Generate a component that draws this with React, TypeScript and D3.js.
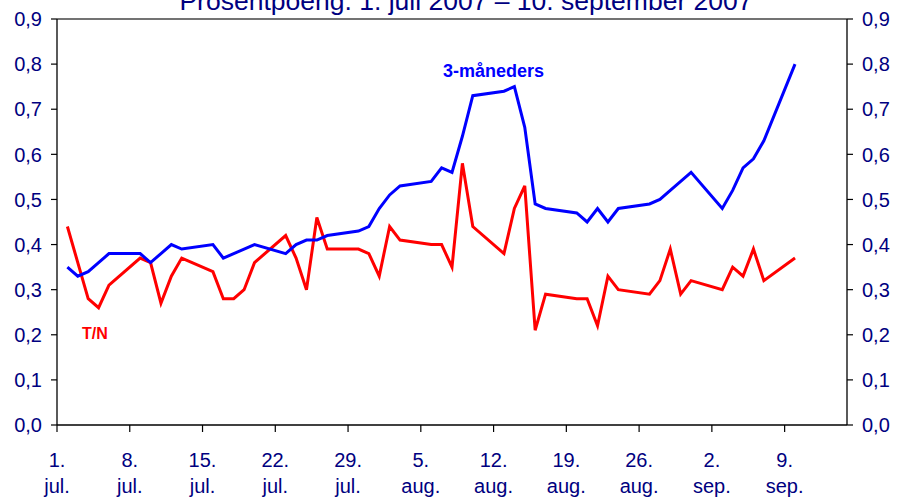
import React from "react";
import * as d3 from "d3";

// business days
const dates = [
  "2007-07-02", "2007-07-03", "2007-07-04", "2007-07-05", "2007-07-06",
  "2007-07-09", "2007-07-10", "2007-07-11", "2007-07-12", "2007-07-13",
  "2007-07-16", "2007-07-17", "2007-07-18", "2007-07-19", "2007-07-20",
  "2007-07-23", "2007-07-24", "2007-07-25", "2007-07-26", "2007-07-27",
  "2007-07-30", "2007-07-31", "2007-08-01", "2007-08-02", "2007-08-03",
  "2007-08-06", "2007-08-07", "2007-08-08", "2007-08-09", "2007-08-10",
  "2007-08-13", "2007-08-14", "2007-08-15", "2007-08-16", "2007-08-17",
  "2007-08-20", "2007-08-21", "2007-08-22", "2007-08-23", "2007-08-24",
  "2007-08-27", "2007-08-28", "2007-08-29", "2007-08-30", "2007-08-31",
  "2007-09-03", "2007-09-04", "2007-09-05", "2007-09-06", "2007-09-07",
  "2007-09-10",
];

const threeMonth = [
  0.35, 0.33, 0.34, 0.36, 0.38,
  0.38, 0.36, 0.38, 0.40, 0.39,
  0.40, 0.37, 0.38, 0.39, 0.40,
  0.38, 0.40, 0.41, 0.41, 0.42,
  0.43, 0.44, 0.48, 0.51, 0.53,
  0.54, 0.57, 0.56, 0.64, 0.73,
  0.74, 0.75, 0.66, 0.49, 0.48,
  0.47, 0.45, 0.48, 0.45, 0.48,
  0.49, 0.50, 0.52, 0.54, 0.56,
  0.48, 0.52, 0.57, 0.59, 0.63,
  0.80,
];

const tomNext = [
  0.44, 0.36, 0.28, 0.26, 0.31,
  0.37, 0.36, 0.27, 0.33, 0.37,
  0.34, 0.28, 0.28, 0.30, 0.36,
  0.42, 0.37, 0.30, 0.46, 0.39,
  0.39, 0.38, 0.33, 0.44, 0.41,
  0.40, 0.40, 0.35, 0.58, 0.44,
  0.38, 0.48, 0.53, 0.21, 0.29,
  0.28, 0.28, 0.22, 0.33, 0.30,
  0.29, 0.32, 0.39, 0.29, 0.32,
  0.30, 0.35, 0.33, 0.39, 0.32,
  0.37,
];

const xTickDates = [
  "2007-07-01", "2007-07-08", "2007-07-15", "2007-07-22", "2007-07-29",
  "2007-08-05", "2007-08-12", "2007-08-19", "2007-08-26", "2007-09-02",
  "2007-09-09",
];
const xTickDays = ["1.", "8.", "15.", "22.", "29.", "5.", "12.", "19.", "26.", "2.", "9."];
const xTickMonths = ["jul.", "jul.", "jul.", "jul.", "jul.", "aug.", "aug.", "aug.", "aug.", "sep.", "sep."];

const yTicks = [0, 0.1, 0.2, 0.3, 0.4, 0.5, 0.6, 0.7, 0.8, 0.9];

const title = "Prosentpoeng. 1. juli 2007 \u2013 10. september 2007";

const W = 897;
const H = 502;
const FONT = "'Liberation Sans', Arial, sans-serif";
const NAVY = "#000080";

export default function App() {
  const parse = d3.utcParse("%Y-%m-%d");
  const x = d3
    .scaleUtc()
    .domain([parse("2007-07-01")!, parse("2007-09-15")!])
    .range([57, 847]);
  const y = d3.scaleLinear().domain([0, 0.9]).range([425, 19]);

  const pts = dates.map((d) => parse(d)!);
  const line = d3
    .line<number>()
    .x((_, i) => x(pts[i]))
    .y((v) => y(v));

  const fmt = (v: number) => v.toFixed(1).replace(".", ",");
  const [x0, x1] = x.range();
  const [yb, yt] = y.range();

  return (
    <svg
      width={W}
      height={H}
      style={{ position: "absolute", left: 0, top: 0, background: "#fff" }}
      fontFamily={FONT}
    >
      <text x={466} y={9.5} textAnchor="middle" fontSize={26.5} fill={NAVY}>
        {title}
      </text>

      {/* frame */}
      <line x1={x0} x2={x1} y1={yt} y2={yt} stroke="#444" strokeWidth={1.3} />
      <line x1={x0} x2={x0} y1={yt} y2={yb} stroke="#000" strokeWidth={1.3} />
      <line x1={x1} x2={x1} y1={yt} y2={yb} stroke="#000" strokeWidth={1.3} />
      <line x1={x0} x2={x1} y1={yb} y2={yb} stroke="#000" strokeWidth={1.3} />

      {/* y axes, left and right */}
      {yTicks.map((t) => (
        <g key={t}>
          <line x1={x0 - 6} x2={x0} y1={y(t)} y2={y(t)} stroke="#000" strokeWidth={1.2} />
          <line x1={x1} x2={x1 + 6} y1={y(t)} y2={y(t)} stroke="#000" strokeWidth={1.2} />
          <text x={42} y={y(t)} dy="0.36em" textAnchor="end" fontSize={20} fill={NAVY}>
            {fmt(t)}
          </text>
          <text x={862} y={y(t)} dy="0.36em" textAnchor="start" fontSize={20} fill={NAVY}>
            {fmt(t)}
          </text>
        </g>
      ))}

      {/* x axis */}
      {xTickDates.map((d, i) => {
        const xp = x(parse(d)!);
        return (
          <g key={d}>
            <line x1={xp} x2={xp} y1={yb} y2={yb + 7} stroke="#000" strokeWidth={1.2} />
            <text x={xp} y={467} textAnchor="middle" fontSize={20} fill={NAVY}>
              {xTickDays[i]}
            </text>
            <text x={xp} y={493} textAnchor="middle" fontSize={20} fill={NAVY}>
              {xTickMonths[i]}
            </text>
          </g>
        );
      })}

      <path d={line(tomNext)!} fill="none" stroke="#ff0000" strokeWidth={3} strokeLinejoin="miter" />
      <path d={line(threeMonth)!} fill="none" stroke="#0000ff" strokeWidth={3} strokeLinejoin="miter" />

      <text x={443} y={77} fontSize={18} fontWeight="bold" fill="#0000ff">
        3-måneders
      </text>
      <text x={82} y={339} fontSize={16} fontWeight="bold" fill="#ff0000">
        T/N
      </text>
    </svg>
  );
}
